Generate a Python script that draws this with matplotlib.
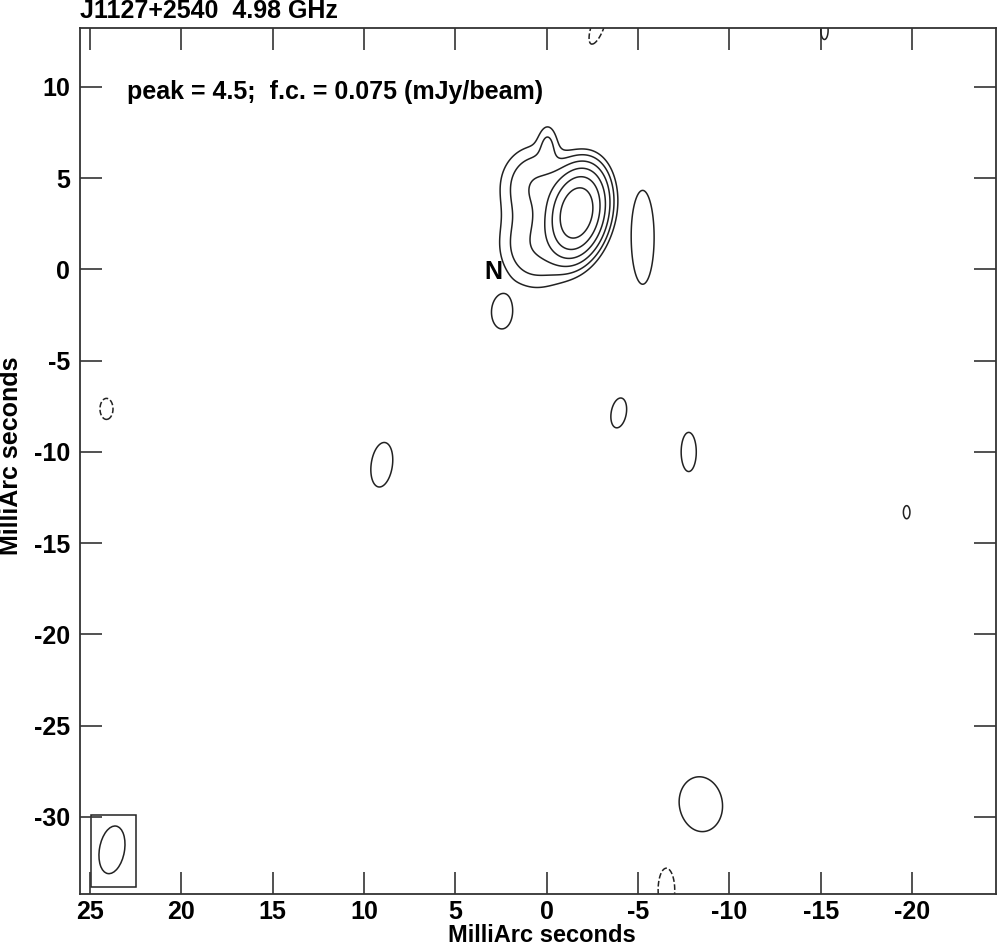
import numpy as np
import matplotlib
matplotlib.use('Agg')
from matplotlib import pyplot as plt
from matplotlib.patches import Ellipse, Rectangle

# source model (mas, mJy/beam): centre, peak, sigma_x, sigma_y, tilt (deg)
comp_x = [-1.65, 0.5, 0.6, -0.05, -5.25, 2.46, -3.94, -7.77, 9.03, -8.43, -19.7, 24.1, -6.55, -2.8, -15.2]
comp_y = [3.1, 4.6, 1.3, 6.9, 1.76, -2.36, -7.86, -10.0, -10.7, -29.3, -13.3, -7.64, -34.0, 13.35, 13.1]
comp_amp = [4.5, 0.3, 0.28, 0.13, 0.14, 0.14, 0.14, 0.14, 0.14, 0.14, 0.08, -0.1, -0.1, -0.1, 0.085]
comp_sx = [0.75, 1.2, 1.2, 0.35, 0.56, 0.5, 0.37, 0.37, 0.52, 1.06, 0.5, 0.47, 0.6, 0.45, 0.4]
comp_sy = [1.22, 1.3, 1.4, 0.75, 2.3, 0.8, 0.74, 0.96, 1.1, 1.35, 1.0, 0.76, 1.6, 1.4, 1.0]
comp_pa = [12, 0, 0, 0, 0, 0, 10, 0, 8, -8, 0, 0, 0, 20, 0]

peak = 4.5
first_contour = 0.075
level_steps = [-1, 1, 2, 4, 8, 16, 32]

beam_major = 2.64
beam_minor = 1.37
beam_pa = 10
beam_pos = (23.8, -31.8)
beam_box = (22.49, -33.85, 2.46, 3.96)

title = 'J1127+2540  4.98 GHz'
note = 'peak = 4.5;  f.c. = 0.075 (mJy/beam)'

plt.rcParams['font.family'] = ['Liberation Sans', 'DejaVu Sans']
plt.rcParams['font.weight'] = 'bold'
plt.rcParams['axes.unicode_minus'] = False
fs = 18

xx, yy = np.meshgrid(np.arange(-26, 27, 0.04), np.arange(-36, 15, 0.04))
img = np.zeros_like(xx)
for x0, y0, a, sx, sy, pa in zip(comp_x, comp_y, comp_amp, comp_sx, comp_sy, comp_pa):
    t = np.radians(pa)
    dx = xx - x0
    dy = yy - y0
    u = dx * np.cos(t) + dy * np.sin(t)
    v = -dx * np.sin(t) + dy * np.cos(t)
    img += a * np.exp(-0.5 * (u**2 / sx**2 + v**2 / sy**2))

levels = [s * first_contour for s in level_steps]
styles = ['dashed' if l < 0 else 'solid' for l in levels]

fig = plt.figure(figsize=(9.97, 9.48), dpi=100)
ax = fig.add_axes([80/997, 54/948, 916/997, 866/948])
ax.contour(xx, yy, img, levels=levels, colors='#222222', linewidths=1.1, linestyles=styles)

ax.add_patch(Rectangle(beam_box[:2], beam_box[2], beam_box[3], fill=False, ec='#222222', lw=1.1))
ax.add_patch(Ellipse(beam_pos, beam_minor, beam_major, angle=beam_pa, fill=False, ec='#222222', lw=1.1))

ax.set_xlim(25.55, -24.59)
ax.set_ylim(-34.22, 13.23)
ax.set_xticks(np.arange(25, -21, -5))
ax.set_yticks(np.arange(10, -31, -5))
ax.tick_params(direction='in', length=16, width=1.2, top=True, right=True, labelsize=fs, pad=7, color='#333333')
ax.tick_params(axis='x', pad=4)
for s in ax.spines.values():
    s.set_linewidth(1.3)
    s.set_color('#333333')

ax.text(22.97, 9.73, note, fontsize=fs, fontweight='bold', va='center', ha='left')
ax.text(2.95, -0.15, 'N', fontsize=fs, fontweight='bold', va='center', ha='center')

fig.text(80/997, 1 - 18/948, title, fontsize=fs, fontweight='bold', va='baseline', ha='left')
fig.text(542/997, 1 - 942/948, 'MilliArc seconds', fontsize=17, fontweight='bold', va='baseline', ha='center')
fig.text(11/997, 1 - 456/948, 'MilliArc seconds', fontsize=fs, fontweight='bold', va='center', ha='center', rotation=90)

fig.savefig('out.png', dpi=100)
